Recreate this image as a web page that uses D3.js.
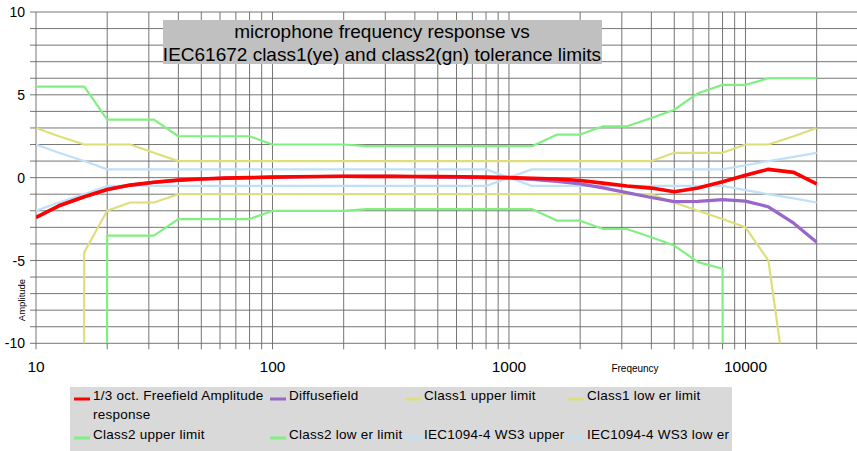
<!DOCTYPE html>
<html><head><meta charset="utf-8">
<script src="https://cdn.jsdelivr.net/npm/d3@7"></script>
<style>
body{margin:0;background:#fff}
svg{display:block}
text{font-family:"Liberation Sans",Arial,sans-serif;fill:#000}
</style>
</head><body>
<svg id="c" width="857" height="451"></svg>
<script>
// ---- data ----
const NEG = -1000; // no lower limit (minus infinity)
const freqs = [10,12.5,16,20,25,31.5,40,50,63,80,100,125,160,200,250,315,400,500,630,800,1000,1250,1600,2000,2500,3150,4000,5000,6300,8000,10000,12500,16000,20000];
const freefield = [-2.4,-1.7,-1.15,-0.72,-0.45,-0.28,-0.15,-0.08,-0.03,0.0,0.03,0.05,0.07,0.08,0.08,0.08,0.07,0.06,0.05,0.03,0.0,-0.04,-0.08,-0.17,-0.33,-0.5,-0.63,-0.85,-0.62,-0.25,0.15,0.5,0.32,-0.37];
const diffuse = [-2.4,-1.7,-1.15,-0.72,-0.45,-0.28,-0.15,-0.08,-0.03,0.0,0.03,0.05,0.07,0.08,0.08,0.08,0.06,0.03,0.01,0.0,-0.02,-0.1,-0.22,-0.38,-0.62,-0.9,-1.2,-1.45,-1.43,-1.33,-1.42,-1.76,-2.75,-3.9];
const class1Upper = [3,2.5,2,2,2,1.5,1,1,1,1,1,1,1,1,1,1,1,1,1,1,1,1,1,1,1,1,1,1.5,1.5,1.5,2,2,2.5,3];
const class1Lower = [NEG,NEG,-4.5,-2,-1.5,-1.5,-1,-1,-1,-1,-1,-1,-1,-1,-1,-1,-1,-1,-1,-1,-1,-1,-1,-1,-1,-1,-1,-1.5,-2,-2.5,-3,-5,-16,NEG];
const class2Upper = [5.5,5.5,5.5,3.5,3.5,3.5,2.5,2.5,2.5,2.5,2,2,2,2,1.9,1.9,1.9,1.9,1.9,1.9,1.9,1.9,2.6,2.6,3.1,3.1,3.6,4.1,5.1,5.6,5.6,6,6,6];
const class2Lower = [NEG,NEG,NEG,-3.5,-3.5,-3.5,-2.5,-2.5,-2.5,-2.5,-2,-2,-2,-2,-1.9,-1.9,-1.9,-1.9,-1.9,-1.9,-1.9,-1.9,-2.6,-2.6,-3.1,-3.1,-3.6,-4.1,-5.1,-5.5,NEG,NEG,NEG,NEG];
const ws3Upper = [2,1.5,1,0.5,0.5,0.5,0.5,0.5,0.5,0.5,0.5,0.5,0.5,0.5,0.5,0.5,0.5,0.5,0.5,0.5,0,0.5,0.5,0.5,0.5,0.5,0.5,0.5,0.5,0.5,0.75,1,1.25,1.5];
const ws3Lower = [-2,-1.5,-1,-0.5,-0.5,-0.5,-0.5,-0.5,-0.5,-0.5,-0.5,-0.5,-0.5,-0.5,-0.5,-0.5,-0.5,-0.5,-0.5,-0.5,0,-0.5,-0.5,-0.5,-0.5,-0.5,-0.5,-0.5,-0.5,-0.5,-0.75,-1,-1.25,-1.5];
const xTickValues = [10,100,1000,10000];
const yTickValues = [-10,-5,0,5,10];
const titleLines = ["microphone frequency response vs","IEC61672 class1(ye) and class2(gn) tolerance limits"];
const xAxisTitle = "Freqeuncy";
const yAxisTitle = "Amplitude";

const series = [
  {name:"1/3 oct. Freefield Amplitude response", values:freefield, color:"#ff0000", w:3.6},
  {name:"Diffusefield", values:diffuse, color:"#9966cc", w:3.2},
  {name:"Class1 upper limit", values:class1Upper, color:"#dede7a", w:2.2},
  {name:"Class1 low er limit", values:class1Lower, color:"#dede7a", w:2.2},
  {name:"Class2 upper limit", values:class2Upper, color:"#80f080", w:2.2},
  {name:"Class2 low er limit", values:class2Lower, color:"#80f080", w:2.2},
  {name:"IEC1094-4 WS3 upper", values:ws3Upper, color:"#bfe0f7", w:2.2},
  {name:"IEC1094-4 WS3 low er", values:ws3Lower, color:"#bfe0f7", w:2.2}
];

// ---- layout ----
const svg = d3.select("#c");
const x = d3.scaleLog().domain([10,30000]).range([36,858.3]);
const y = d3.scaleLinear().domain([-10,10]).range([343.3,12]);
const plotL = 36, plotR = 857, plotT = 12, plotB = 343.3;

// grid
const grid = svg.append("g");
grid.selectAll("line.h").data(d3.range(-10,11)).join("line")
  .attr("x1",30).attr("x2",plotR).attr("y1",d=>y(d)).attr("y2",d=>y(d))
  .attr("stroke","#666").attr("stroke-width",0.9);
const vTicks = x.ticks().filter(d=>d>=10 && x(d)<=plotR);
grid.selectAll("line.v").data(vTicks).join("line")
  .attr("x1",d=>x(d)).attr("x2",d=>x(d)).attr("y1",plotT).attr("y2",plotB+6)
  .attr("stroke","#666").attr("stroke-width",0.9);

// series
svg.append("defs").append("clipPath").attr("id","clip")
  .append("rect").attr("x",plotL).attr("y",plotT).attr("width",plotR-plotL).attr("height",plotB-plotT);
const line = d3.line().x((d,i)=>x(freqs[i])).y(d=>y(d));
const drawOrder = [7,6,5,4,3,2,1,0];
svg.append("g").attr("clip-path","url(#clip)")
  .selectAll("path").data(drawOrder.map(i=>series[i])).join("path")
  .attr("d",s=>line(s.values)).attr("fill","none")
  .attr("stroke",s=>s.color).attr("stroke-width",s=>s.w)
  .attr("stroke-linejoin","round");

// axes labels
svg.append("g").selectAll("text").data(yTickValues).join("text")
  .attr("x",25).attr("y",d=>y(d)).attr("dy","0.36em").attr("text-anchor","end")
  .style("font-size","14px").text(d=>d);
svg.append("g").selectAll("text").data(xTickValues).join("text")
  .attr("x",d=>x(d)).attr("y",366).attr("dy","0.36em").attr("text-anchor","middle")
  .style("font-size","15.5px").text(d=>d);
svg.append("text").attr("x",635).attr("y",368).attr("dy","0.36em").attr("text-anchor","middle")
  .style("font-size","10px").text(xAxisTitle);
svg.append("text").attr("transform","translate(22,300) rotate(-90)").attr("dy","0.36em")
  .attr("text-anchor","middle").style("font-size","9.5px").text(yAxisTitle);

// title
svg.append("rect").attr("x",163).attr("y",20).attr("width",439).attr("height",44).attr("fill","#c0c0c0");
svg.append("g").selectAll("text").data(titleLines).join("text")
  .attr("x",382).attr("y",(d,i)=>38+i*22.7).attr("text-anchor","middle")
  .style("font-size","19px").text(d=>d);

// legend
svg.append("rect").attr("x",70).attr("y",387).attr("width",662).attr("height",70).attr("fill","#d9d9d9");
const colX = [74,270,405,568], rowY = [400,439];
const maxW = 172;
const lg = svg.append("g");
series.forEach((s,i)=>{
  const cx = colX[i%4], cy = rowY[Math.floor(i/4)];
  lg.append("line").attr("x1",cx).attr("x2",cx+16).attr("y1",cy-1).attr("y2",cy-1)
    .attr("stroke",s.color).attr("stroke-width",3);
  const t = lg.append("text").attr("x",cx+19).attr("y",cy).attr("dy","0.36em")
    .style("font-size","13.5px").style("letter-spacing","0.25px");
  const words = s.name.split(" ");
  let lineWords = [];
  let ts = t.append("tspan").attr("x",cx+19).attr("dy",0);
  words.forEach(w=>{
    lineWords.push(w);
    ts.text(lineWords.join(" "));
    if (ts.node().getComputedTextLength() > maxW && lineWords.length>1){
      lineWords.pop(); ts.text(lineWords.join(" "));
      lineWords=[w];
      ts = t.append("tspan").attr("x",cx+19).attr("dy","1.4em").text(w);
    }
  });
});
</script>
</body></html>
